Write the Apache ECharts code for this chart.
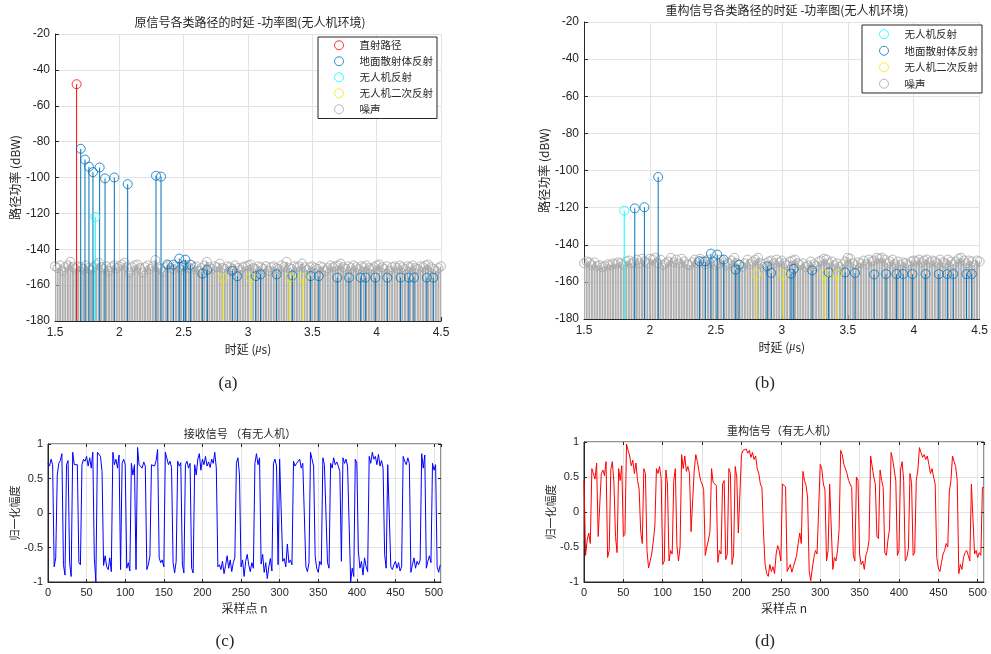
<!DOCTYPE html>
<html><head><meta charset="utf-8">
<script src="https://cdn.jsdelivr.net/npm/echarts@6/dist/echarts.min.js"></script>
<style>html,body{margin:0;padding:0;background:#fff}#c{width:991px;height:654px}</style>
</head><body><div id="c"></div>
<script>
// ---------------- data ----------------
const delayTicks = [1.5, 2, 2.5, 3, 3.5, 4, 4.5];
const noiseStart = 1.5, noiseStep = 0.02;
// (a) original signal
const directA = [[1.668, -48]];
const groundA = [[1.70,-84],[1.733,-90],[1.764,-94],[1.795,-97],[1.847,-94.4],[1.889,-100.5],[1.961,-100],[2.065,-103.7],[2.285,-99],[2.324,-99.5],
  [2.373,-148.5],[2.42,-148.6],[2.466,-145.2],[2.50,-149],[2.513,-145.8],[2.554,-148.6],[2.645,-153.6],[2.684,-151.4],[2.878,-152],[2.917,-155],
  [3.06,-155],[3.098,-154],[3.223,-154],[3.345,-154.7],[3.487,-155],[3.55,-155],[3.694,-155.8],[3.785,-155.8],[3.876,-155.8],[3.915,-155.8],
  [3.99,-155.8],[4.083,-155.8],[4.186,-155.8],[4.25,-155.8],[4.29,-155.8],[4.39,-155.8],[4.44,-155.8]];
const uavA = [[1.813, -122]];
const uav2A = [[2.806,-155.8],[3.02,-155.8],[3.324,-155.8],[3.425,-155.8]];
const noiseA = [-149.5,-150.5,-149,-152,-150,-149,-147,-150,-151,-149.5,
  -150,-151,-149,-150.5,-151.5,-150,-148.5,-147.5,-150,-151,
  -149.5,-152,-150,-149,-150.5,-149.5,-148.5,-147.5,-150,-153,
  -150,-149,-148.5,-150.5,-153,-150,-149,-151,-149.5,-146,
  -150,-151,-152.5,-150,-149,-150.5,-151,-149.5,-150,-151.5,
  -150,-149,-150.5,-151,-150,-149.5,-152,-150.5,-149,-147,
  -150,-151,-149.5,-150,-148,-150.5,-151,-149.5,-150,-151,
  -149,-150.5,-151.5,-150,-149.5,-149,-148.5,-150.5,-151,-149.5,
  -150,-151,-149.5,-152,-150,-149.5,-150.5,-151,-149,-150,
  -147,-150.5,-151,-149.5,-150,-149.5,-148,-150,-151.5,-150,
  -149.5,-150.5,-151,-149.5,-150,-152,-150.5,-149,-150,-149.5,
  -149,-148,-150,-151,-149.5,-150.5,-149,-150,-151,-149.5,
  -150,-149,-150.5,-151,-150,-149,-148.5,-150,-151,-149.5,
  -152,-150,-149.5,-150.5,-149,-150,-151,-149.5,-150,-149,
  -150.5,-151,-149.5,-150,-149,-148.5,-150,-151,-152,-150.5,
  -149.5];
// (b) reconstructed signal
const uavB = [[1.805, -121.6]];
const groundB = [[1.885,-120.4],[1.958,-119.8],[2.0625,-103.5],
  [2.375,-148.9],[2.42,-149],[2.4625,-144.8],[2.51,-145.3],[2.56,-148],[2.65,-153.4],[2.675,-150.7],[2.89,-151.6],[2.92,-155.2],
  [3.07,-155.6],[3.09,-153],[3.23,-153.8],[3.355,-154.9],[3.48,-154.9],[3.555,-155.2],[3.70,-156],[3.79,-155.8],[3.87,-155.8],[3.92,-155.8],
  [3.99,-155.8],[4.09,-155.8],[4.19,-155.8],[4.255,-155.8],[4.30,-155.8],[4.40,-155.8],[4.44,-155.8]];
const uav2B = [[2.805,-156],[3.01,-156],[3.32,-156],[3.42,-156]];
const noiseB = [-150,-149,-149.5,-151,-149.5,-151.5,-151,-152,-151.5,-150.5,
  -151,-150,-150.5,-149.5,-150,-151,-149,-148.5,-150,-149.5,
  -148,-150,-147.5,-149,-150,-147.5,-148,-147,-150,-148,
  -151,-150,-149,-147,-149.5,-148,-150,-147.5,-149,-150.5,
  -151,-149.5,-148,-150,-147.5,-149,-150.5,-148,-150,-149,
  -151,-150,-148,-149.5,-151,-150,-148.5,-147,-150,-151,
  -152,-150,-148,-150.5,-149,-148,-147,-150,-152,-150,
  -149,-148.5,-150,-148,-149.5,-148.5,-150,-151,-149,-148.5,
  -148,-150,-151,-150,-152,-151,-149,-150.5,-151.5,-149,
  -148.5,-147.5,-148,-150,-149,-151,-150,-152,-150.5,-149,
  -147,-147.5,-150,-151,-149.5,-150,-148.5,-150.5,-148,-149,
  -148.5,-147,-147.5,-147,-148,-150,-149,-148,-150.5,-149,
  -151,-149.5,-150,-151,-149,-148.5,-149,-148,-149.5,-148.5,
  -148,-149.5,-148.5,-149,-150,-148,-149.5,-150,-148,-149,
  -150.5,-149,-147.5,-147,-148.5,-150,-148.5,-149,-151,-148.5,
  -149];
// (c) received signal, runs: [start n, values every 2 samples...]
const recvRuns = [
  [0, 0.72,0.68,0.78,0.70, -0.78,-0.65, 0.55,0.72,0.76,0.86, -0.75,-0.90, 0.70,0.76, -0.72,-0.92],
  [32, 0.88,0.70,0.71,0.70, -0.72,-0.75, 0.70,0.78,0.75,0.82,0.68,0.80,0.65,0.88, -0.65,-1.0],
  [64, 0.88,0.87,0.82,0.60, -0.76,-0.62,-0.78,-0.82,-0.65,-0.85, 0.88,0.70,0.78,0.65,0.84, -0.82],
  [96, 0.72,0.78,0.70, -0.80,-0.72,-0.84, 0.72,0.55,0.70, -0.82, 0.95,0.70,0.72,0.65,0.74,0.68],
  [128, -0.82,-0.75,-0.62, 0.70,0.72,0.68,0.76,0.92, -0.65,-0.72,-0.68,-0.78],
  [152, 0.88,0.86,0.70,0.75,0.66, -0.72,-0.87,-0.70, 0.75,0.68,0.73, -0.74,-0.87, 0.70,0.75,0.65,0.72, -0.80,-0.87],
  [190, 0.70,0.55,0.78,0.86,0.62,0.78,0.70,0.82,0.68,0.74,0.66,0.78,0.72,0.88,0.65],
  [220, -0.78,-0.75,-0.82,-0.70,-0.88,-0.76,-0.62,-0.80,-0.68,-0.85,-0.72,-0.65, 0.72,0.80,0.55],
  [250, -0.78,-0.68,-0.92,-0.70,-0.60,-0.75,-0.85,-0.72,-0.80, 0.72,0.86,0.70,0.80],
  [276, -0.74,-0.60,-0.86,-0.72,-0.95,-0.78,-0.66,-0.84, 0.72,0.78,0.68, -0.75, 0.78,0.80],
  [304, -0.70,-0.66,-0.78,-0.45,-0.72,-0.68,-0.75, 0.75,0.68,0.72,0.70,0.78,0.65,0.72,0.70],
  [334, -0.78,-0.85,-0.72, 0.88,0.78,0.68, -0.62,-0.80,-0.86,-0.70,-0.75, 0.80,0.70,0.72, -0.72,-0.80],
  [366, 0.72,0.65,0.80,0.70,0.74,0.68,0.60, -0.70, 0.80,0.72,0.78,0.68,0.70, -1.0,-0.80,-0.92, 0.78,0.72],
  [402, -0.55,-0.80,-0.70,-0.90,-0.65,-0.78,-0.85, 0.82,0.72,0.88,0.78,0.82,0.70,0.85,0.68,0.76,0.65],
  [436, -0.60,-0.80, 0.70,0.72, -0.78,-0.82,-0.75,-0.70,-0.80,-0.72,-0.84,-0.78],
  [460, 0.82,0.75,0.70,0.80,0.72, -0.86,-0.75,-0.65,-0.80,-0.70,-0.75,-0.68, 0.86,0.65,0.84],
  [490, -0.80,-0.70,-0.62,-0.72, 0.72,0.62,0.70, -0.78,-0.86,-0.75]
];
// (d) reconstructed signal
const reconRuns = [
  [0, 0.45,-0.62,-0.40,-0.30,-0.45],
  [10, 0.62,0.60,0.47,0.70, -0.35,-0.36, 0.55,0.60,0.52,0.72, -0.65,-0.55, 0.60,0.72,0.42, -0.35,-0.58, 0.62,0.45,0.66, -0.35,-0.32],
  [54, 0.97,0.88,0.80,0.66,0.74,0.55,0.70,0.45,0.33, -0.28,-0.45, 0.62,0.55, -0.55,-0.80,-0.78,-0.60,-0.42,-0.20],
  [92, 0.62,0.55,0.65,0.48, -0.75,-0.70, 0.60,0.40, -0.70,-0.55,-0.60, 0.45,0.62, -0.48,-0.70,-0.50],
  [124, 0.82,0.62,0.80,0.58,0.65,0.55, -0.28,-0.30, 0.60,0.82,0.72,0.58,0.45,0.40,0.32, -0.62,-0.50,-0.40,-0.28],
  [162, 0.62,0.42,0.40,0.38, -0.72,-0.55,-0.60, 0.40,0.45, -0.68,-0.60, 0.62,0.55, -0.75,-0.60, 0.65,0.50, -0.30,-0.28],
  [200, 0.82,0.88,0.86,0.90,0.84,0.88,0.78,0.85,0.75,0.80,0.62,0.55,0.40,0.35],
  [228, -0.30,-0.75,-0.88,-0.92,-0.75,-0.85,-0.78,-0.88,-0.60,-0.48,-0.55,-0.70],
  [252, 0.40,0.38,0.36, -0.85,-0.80,-0.75,-0.86,-0.78,-0.70,-0.62,-0.45,-0.30,-0.45],
  [278, 0.58,0.45,0.38,0.20, -0.85,-0.98,-0.80,-0.65,-0.55,-0.60,-0.62],
  [300, 0.68,0.62,0.40,0.32, -0.70,-0.55, 0.40,0.38, -0.82,-0.65,-0.70,-0.55,-0.25],
  [326, 0.88,0.82,0.68,0.62,0.55,0.45,0.40,0.35, -0.62,-0.70, 0.50,0.45, -0.60,-0.75,-0.70,-0.82,-0.62,-0.55,-0.40],
  [364, 0.80,0.65,0.50,0.40, -0.35,-0.38, 0.60,0.45,0.35, -0.58,-0.62,-0.40,-0.25],
  [390, 0.85,0.75,0.60,0.45, -0.62,-0.55, 0.60,0.72,0.45, -0.70,-0.65,-0.52, 0.55,0.42, -0.62,-0.58, 0.45,0.60],
  [426, 0.92,0.85,0.78,0.82,0.75,0.80,0.68,0.55,0.62,0.50,0.40],
  [448, -0.65,-0.80,-0.85,-0.72,-0.60,-0.55,-0.45,-0.50],
  [464, 0.30,0.45,0.80,0.72,0.65,0.45],
  [476, -0.88,-0.75,-0.82,-0.65,-0.58,-0.55,-0.62,-0.70],
  [492, 0.40,0.42, -0.60,-0.55,-0.65,-0.58,-0.62, 0.35,0.35]
];
const sampleTicks = [0,50,100,150,200,250,300,350,400,450,500];
const ampTicks = [-1,-0.5,0,0.5,1];

// ---------------- helpers ----------------
function runsToPairs(runs){const out=[];runs.forEach(r=>{for(let k=1;k<r.length;k++)out.push([r[0]+2*(k-1),r[k]]);});return out;}
function noisePairs(vals){return vals.map((v,i)=>[+(noiseStart+i*noiseStep).toFixed(3),v]);}
const FONT = "'Liberation Sans','Noto Sans CJK SC',sans-serif";
const CJK = "'Noto Sans CJK SC','Liberation Sans',sans-serif";
const TXT = '#262626';
const GRIDC = '#e3e3e3';
const C = {red:'#FF0000', blue:'#0072BD', cyan:'#00FFFF', yellow:'#EEEE00', grey:'#A6A6A6'};

function stem(data, color, gi, width, z){
  return {type:'custom', xAxisIndex:gi, yAxisIndex:gi, data:data, z:z, silent:true, clip:true,
    encode:{x:0,y:1},
    renderItem:function(p, api){
      const x=api.value(0), y=api.value(1);
      const a=api.coord([x,-180]), b=api.coord([x,y]);
      return {type:'line', shape:{x1:a[0],y1:a[1],x2:b[0],y2:b[1]}, style:{stroke:color, lineWidth:width}};
    }};
}
function mark(name, data, color, gi, z){
  return {type:'scatter', name:name, xAxisIndex:gi, yAxisIndex:gi, data:data, z:z, silent:true,
    symbol:'circle', symbolSize:9,
    itemStyle:{color:'rgba(255,255,255,0)', borderColor:color, borderWidth:1}};
}
function delayX(gi){
  return {gridIndex:gi, type:'value', min:1.5, max:4.5, interval:0.5,
    axisLine:{onZero:false, lineStyle:{color:TXT}}, axisTick:{inside:true, length:4, lineStyle:{color:TXT}},
    splitLine:{show:true, lineStyle:{color:GRIDC}},
    axisLabel:{color:TXT, fontSize:12, fontFamily:FONT, margin:6,
      formatter:v=>delayTicks.indexOf(+v.toFixed(2))>=0?String(v):''},
    name:'时延 ({it|μ}s)', nameLocation:'middle', nameGap:22,
    nameTextStyle:{color:TXT, fontSize:12, fontFamily:CJK, rich:{it:{fontStyle:'italic', fontSize:12, fontFamily:"'Liberation Serif',serif", color:TXT}}}};
}
function powY(gi){
  return {gridIndex:gi, type:'value', min:-180, max:-20, interval:20,
    axisLine:{onZero:false, lineStyle:{color:TXT}}, axisTick:{inside:true, length:4, lineStyle:{color:TXT}},
    splitLine:{show:true, lineStyle:{color:GRIDC}},
    axisLabel:{color:TXT, fontSize:12, fontFamily:FONT, margin:5},
    name:'路径功率 (dBW)', nameLocation:'middle', nameGap:34, nameRotate:90,
    nameTextStyle:{color:TXT, fontSize:12, fontFamily:CJK}};
}
function sampX(gi, max){
  return {gridIndex:gi, type:'value', min:0, max:max, interval:50,
    axisLine:{onZero:false, lineStyle:{color:TXT}}, axisTick:{inside:true, length:3, lineStyle:{color:TXT}},
    splitLine:{show:true, lineStyle:{color:GRIDC}},
    axisLabel:{color:TXT, fontSize:11, fontFamily:FONT, margin:5, showMaxLabel:false,
      formatter:v=>sampleTicks.indexOf(v)>=0?String(v):''},
    name:'采样点 n', nameLocation:'middle', nameGap:20,
    nameTextStyle:{color:TXT, fontSize:12, fontFamily:CJK}};
}
function sampXTop(gi, max){
  return {gridIndex:gi, type:'value', position:'top', min:0, max:max, interval:50,
    axisLine:{show:false, onZero:false}, axisTick:{inside:true, length:3, lineStyle:{color:TXT}},
    splitLine:{show:false}, axisLabel:{show:false}};
}
function ampY(gi){
  return {gridIndex:gi, type:'value', min:-1, max:1, interval:0.5,
    axisLine:{onZero:false, lineStyle:{color:TXT}}, axisTick:{inside:true, length:3, lineStyle:{color:TXT}},
    splitLine:{show:true, lineStyle:{color:GRIDC}},
    axisLabel:{color:TXT, fontSize:11, fontFamily:FONT, margin:5,
      formatter:v=>ampTicks.indexOf(v)>=0?String(v):''},
    name:'归一化幅度', nameLocation:'middle', nameGap:26, nameRotate:90,
    nameTextStyle:{color:TXT, fontSize:11, fontFamily:CJK}};
}
function ampYRight(gi){
  return {gridIndex:gi, type:'value', position:'right', min:-1, max:1, interval:0.5,
    axisLine:{show:false, onZero:false}, axisTick:{inside:true, length:3, lineStyle:{color:TXT}},
    splitLine:{show:false}, axisLabel:{show:false}};
}
function ttl(text, cx, top, size, fam){
  return {text:text, left:cx, top:top, textAlign:'center', padding:0,
    textStyle:{fontSize:size, fontWeight:'normal', color:TXT, fontFamily:fam||CJK}};
}
function lgd(names, colors, left, top, pad, gap){
  return {orient:'vertical', left:left, top:top, padding:pad, itemGap:gap, itemWidth:9, itemHeight:9,
    selectedMode:false, borderColor:TXT, borderWidth:1, backgroundColor:'#fff', borderRadius:0,
    data:names.map((n,i)=>({name:n, icon:'circle', itemStyle:{color:'rgba(255,255,255,0)', borderColor:colors[i], borderWidth:1}})),
    textStyle:{color:TXT, fontSize:10.5, fontFamily:CJK, padding:[0,0,0,11]}};
}

const nA = noisePairs(noiseA), nB = noisePairs(noiseB);
const option = {
  animation:false, backgroundColor:'#fff',
  title:[
    ttl('原信号各类路径的时延 -功率图(无人机环境)', 250, 16, 12),
    ttl('重构信号各类路径的时延 -功率图(无人机环境)', 787, 4, 12),
    ttl('接收信号 （有无人机）', 240, 428, 11),
    ttl('重构信号（有无人机）', 782, 425, 11),
    ttl('(a)', 228, 375, 17, "'Liberation Serif',serif"),
    ttl('(b)', 765, 375, 17, "'Liberation Serif',serif"),
    ttl('(c)', 225, 633, 17, "'Liberation Serif',serif"),
    ttl('(d)', 765, 633, 17, "'Liberation Serif',serif")
  ],
  legend:[
    lgd(['直射路径','地面散射体反射','无人机反射','无人机二次反射','噪声'], [C.red,C.blue,C.cyan,C.yellow,C.grey], 318, 37, [3,4,4,16], 5.5),
    lgd(['无人机反射','地面散射体反射','无人机二次反射','噪声'], [C.cyan,C.blue,C.yellow,C.grey], 862, 25, [4,4,4,17], 6)
  ],
  grid:[
    {left:55, top:34, width:386, height:287},
    {left:584, top:22, width:400, height:297},
    {left:48, top:444, width:393, height:138, show:true, borderColor:TXT, borderWidth:1, backgroundColor:'#fff'},
    {left:584, top:442, width:400, height:140, show:true, borderColor:TXT, borderWidth:1, backgroundColor:'#fff'}
  ],
  xAxis:[delayX(0), delayX(1), sampX(2, 509), sampX(3, 508), sampXTop(2, 509), sampXTop(3, 508)],
  yAxis:[powY(0), powY(1), ampY(2), ampY(3), ampYRight(2), ampYRight(3)],
  series:[
    stem(nA, '#B0B0B0', 0, 2, 1), mark('噪声', nA, C.grey, 0, 2),
    stem(groundA, C.blue, 0, 1, 3), mark('地面散射体反射', groundA, C.blue, 0, 4),
    stem(uav2A, C.yellow, 0, 1, 3), mark('无人机二次反射', uav2A, C.yellow, 0, 4),
    stem(uavA, C.cyan, 0, 1, 3), mark('无人机反射', uavA, C.cyan, 0, 4),
    stem(directA, C.red, 0, 1, 3), mark('直射路径', directA, C.red, 0, 4),

    stem(nB, '#B0B0B0', 1, 2, 1), mark('噪声', nB, C.grey, 1, 2),
    stem(groundB, C.blue, 1, 1, 3), mark('地面散射体反射', groundB, C.blue, 1, 4),
    stem(uav2B, C.yellow, 1, 1, 3), mark('无人机二次反射', uav2B, C.yellow, 1, 4),
    stem(uavB, C.cyan, 1, 1, 3), mark('无人机反射', uavB, C.cyan, 1, 4),

    {type:'line', xAxisIndex:2, yAxisIndex:2, data:runsToPairs(recvRuns), showSymbol:false, silent:true,
      lineStyle:{color:'#0000FF', width:1}},
    {type:'line', xAxisIndex:3, yAxisIndex:3, data:runsToPairs(reconRuns), showSymbol:false, silent:true,
      lineStyle:{color:'#FF0000', width:1}}
  ]
};
const chart = echarts.init(document.getElementById('c'), null, {renderer:'canvas'});
chart.setOption(option);
</script></body></html>
